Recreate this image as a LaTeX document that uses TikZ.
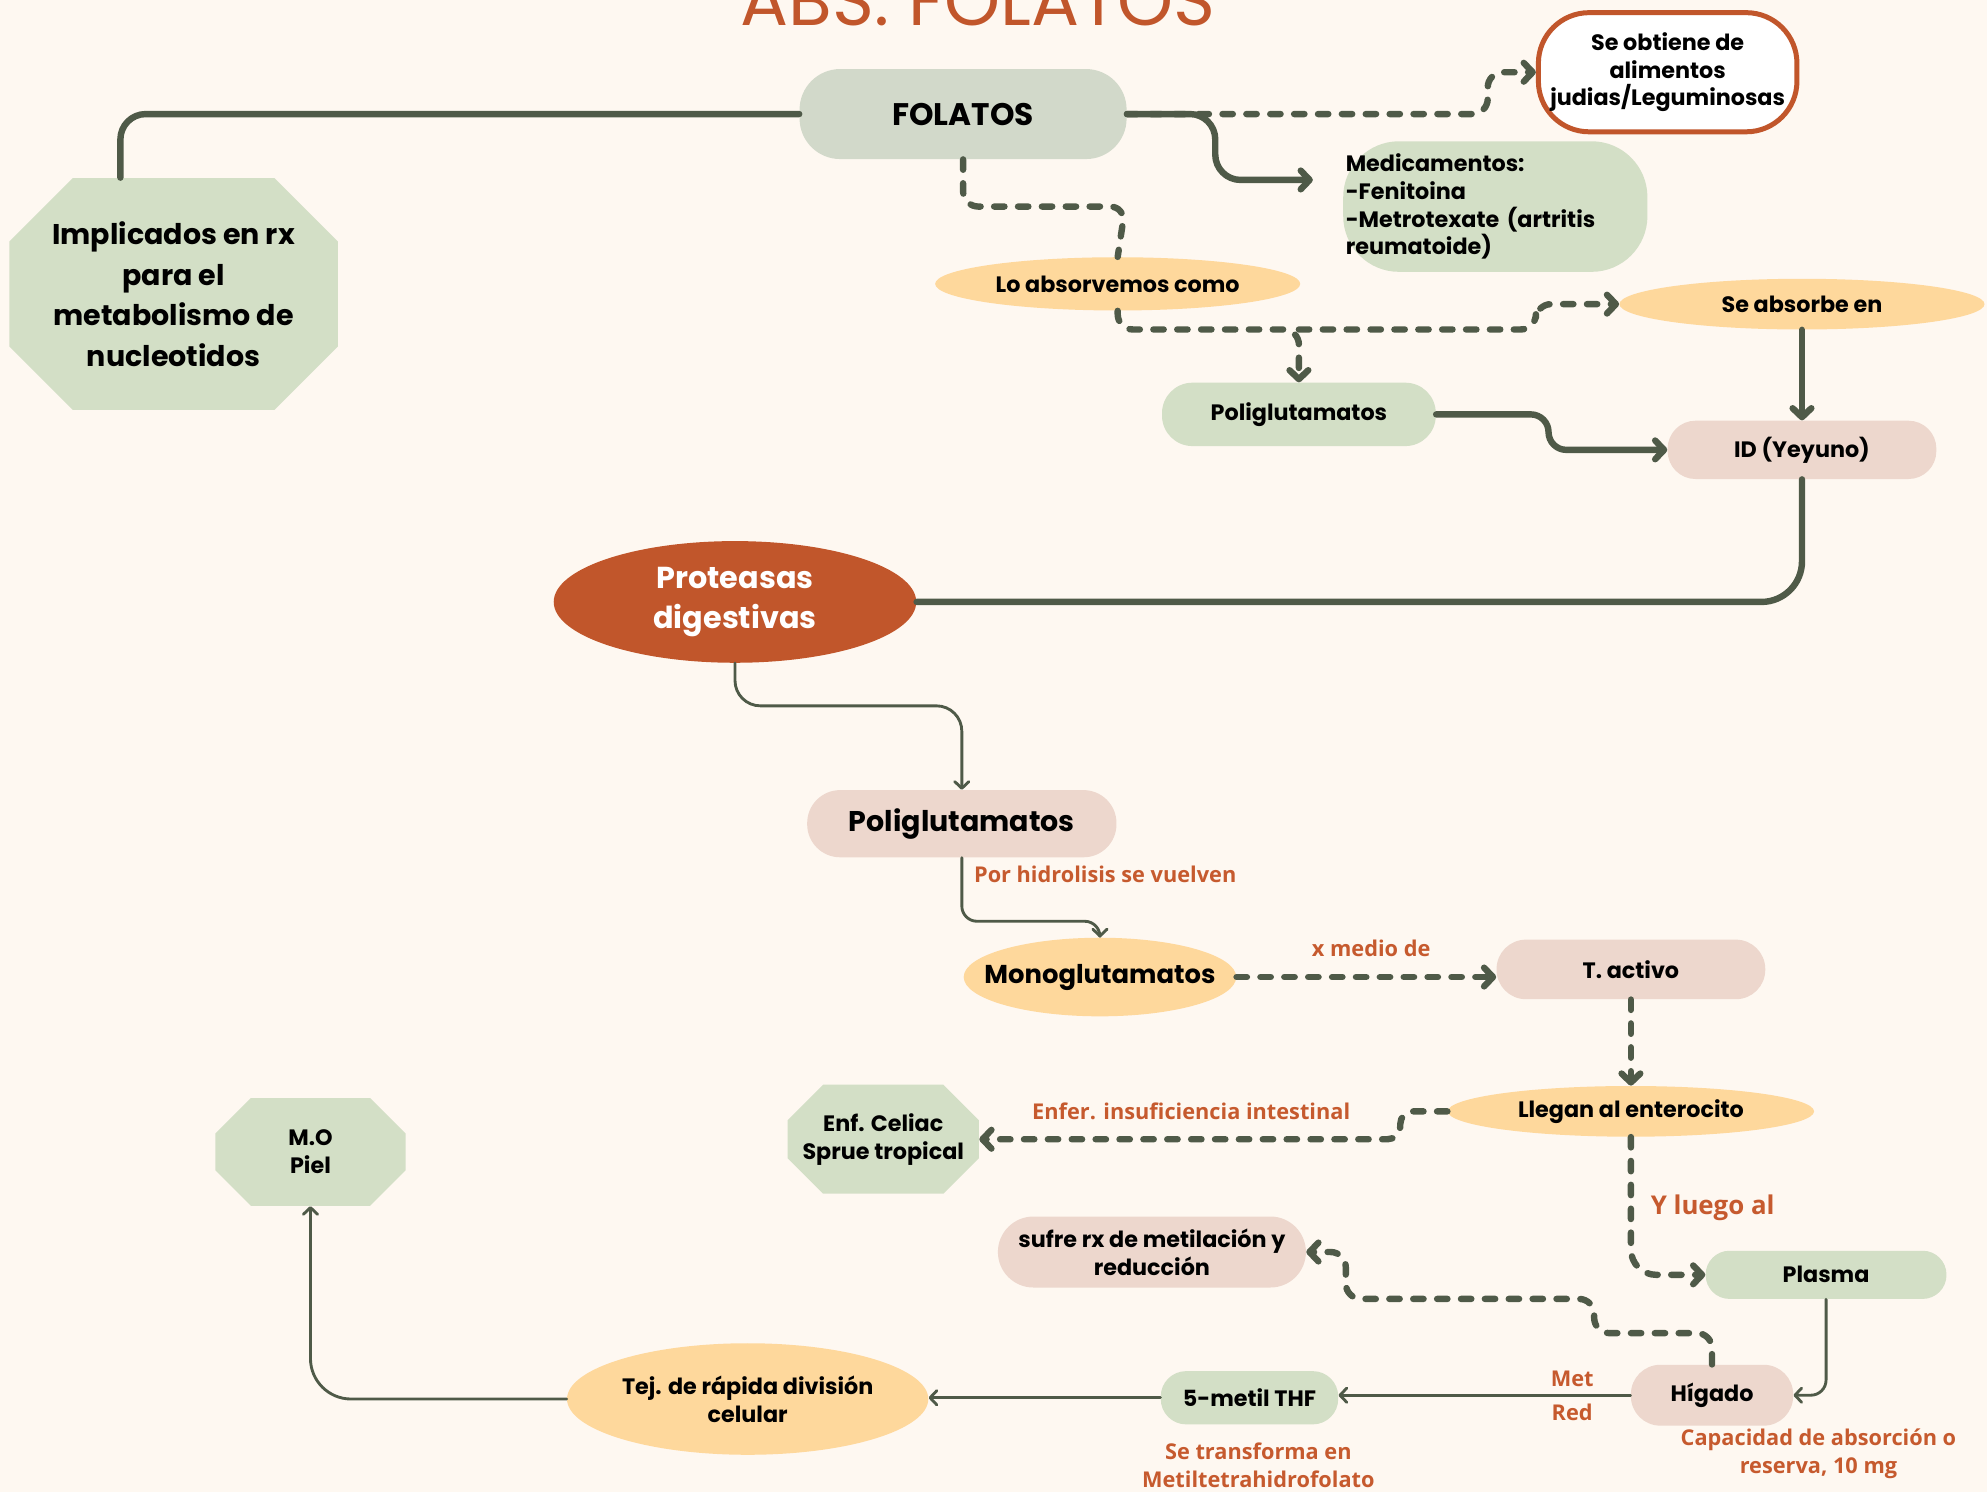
\documentclass[tikz,border=0pt]{standalone}
\usepackage{fontspec}
\setmainfont{Poppins}
\newfontfamily\lblfont{Open Sans}
\usepackage{xcolor}
\usepackage{tikz}
\usetikzlibrary{positioning, arrows.meta, shapes.geometric}

\definecolor{bgc}{HTML}{FEF8F1}
\definecolor{leaf}{HTML}{D3DFC6}
\definecolor{sage}{HTML}{D2D9CA}
\definecolor{rose}{HTML}{EDD7CD}
\definecolor{sand}{HTML}{FED89C}
\definecolor{rust}{HTML}{C1562B}
\definecolor{olive}{HTML}{4F5A48}
\definecolor{lblc}{HTML}{C65A2E}

\tikzset{
  txt/.style={font=\bfseries\fontsize{12.5}{15.6}\selectfont, align=center, text=black},
  pill/.style={txt, rectangle},
  oval/.style={txt, ellipse, inner xsep=-1cm, inner ysep=0pt},
  octo/.style={txt, rectangle, fill=bgc, path picture={
    \fill[leaf] ([xshift=#1]path picture bounding box.north west) -- ([xshift=-#1]path picture bounding box.north east)
      -- ([yshift=-#1]path picture bounding box.north east) -- ([yshift=#1]path picture bounding box.south east)
      -- ([xshift=-#1]path picture bounding box.south east) -- ([xshift=#1]path picture bounding box.south west)
      -- ([yshift=#1]path picture bounding box.south west) -- ([yshift=-#1]path picture bounding box.north west) -- cycle;}},
  lbl/.style={font=\lblfont\bfseries\fontsize{12.2}{15.6}\selectfont, text=lblc, align=center, inner sep=1pt},
  link/.style={line width=3.6pt, olive, line cap=round, line join=round},
  dlink/.style={link, dash pattern=on 5.8pt off 7.6pt},
  slim/.style={line width=1.6pt, olive, line cap=round, line join=round},
  tip/.style={-{Straight Barb[length=5pt, width=10.5pt, round]}},
  stip/.style={-{Straight Barb[length=3.8pt, width=8pt, round]}}
}

\begin{document}
\begin{tikzpicture}[x=0.025cm, y=-0.025cm]
\useasboundingbox (0,0) rectangle (1568,1177);
\fill[bgc] (0,0) rectangle (1568,1177);
\clip (0,0) rectangle (1568,1177);

\node[anchor=base, text=rust, font=\fontsize{40}{42}\selectfont] (title) at (772,20) {ABS. FOLATOS};

\node[pill, fill=sage, minimum width=6.45cm, minimum height=1.775cm, rounded corners=0.8cm, font=\bfseries\fontsize{17.5}{20}\selectfont] (fol) at (760,90) {FOLATOS};
\node[pill, fill=white, draw=rust, line width=2.8pt, minimum width=5.1cm, minimum height=2.35cm, rounded corners=1cm] (obt) at (1316,57) {Se obtiene de\\alimentos\\judias/Leguminosas};
\node[pill, fill=leaf, minimum height=2.575cm, rounded corners=1.1cm, align=left, text width=5.9cm, inner xsep=0.05cm] (med) at (1180,163) {Medicamentos:\\-Fenitoina\\-Metrotexate (artritis\\reumatoide)};
\node[octo=1.25cm, minimum width=6.475cm, minimum height=4.575cm, font=\bfseries\fontsize{16}{22.75}\selectfont] (impl) at (137,232) {Implicados en rx\\para el\\metabolismo de\\nucleotidos};

\node[oval, fill=sand, minimum width=7.2cm, minimum height=1.05cm] (lo) at (882,224) {Lo absorvemos como};
\node[oval, fill=sand, minimum width=7.2cm, minimum height=1cm] (seabs) at (1422,240) {Se absorbe en};
\node[pill, fill=leaf, minimum width=5.4cm, minimum height=1.25cm, rounded corners=0.6cm] (poli1) at (1025,327) {Poliglutamatos};
\node[pill, fill=rose, minimum width=5.3cm, minimum height=1.15cm, rounded corners=0.55cm] (idy) at (1422,355) {ID (Yeyuno)};

\node[oval, fill=rust, text=white, minimum width=7.15cm, minimum height=2.4cm, font=\bfseries\fontsize{17}{22.75}\selectfont] (prot) at (580,475) {Proteasas\\digestivas};
\node[pill, fill=rose, minimum width=6.1cm, minimum height=1.325cm, rounded corners=0.65cm, font=\bfseries\fontsize{16}{18}\selectfont] (poli2) at (759,650) {Poliglutamatos};
\node[oval, fill=sand, minimum width=5.375cm, minimum height=1.55cm, font=\bfseries\fontsize{14.5}{16}\selectfont] (mono) at (868,771) {Monoglutamatos};
\node[pill, fill=rose, minimum width=5.3cm, minimum height=1.175cm, rounded corners=0.58cm] (tact) at (1287,765) {T. activo};
\node[oval, fill=sand, minimum width=7.225cm, minimum height=1cm] (lleg) at (1287,877) {Llegan al enterocito};
\node[octo=0.7cm, minimum width=3.775cm, minimum height=2.15cm] (cel) at (697,899) {Enf. Celiac\\Sprue tropical};
\node[octo=0.7cm, minimum width=3.75cm, minimum height=2.125cm] (mo) at (245,909) {M.O\\Piel};
\node[pill, fill=rose, minimum width=6.075cm, minimum height=1.4cm, rounded corners=0.7cm] (sufre) at (909,988) {sufre rx de metilación y\\reducción};
\node[pill, fill=leaf, minimum width=4.75cm, minimum height=0.95cm, rounded corners=0.47cm] (plas) at (1441,1006) {Plasma};
\node[pill, fill=rose, minimum width=3.2cm, minimum height=1.2cm, rounded corners=0.58cm] (hig) at (1351,1101) {Hígado};
\node[pill, fill=leaf, minimum width=3.5cm, minimum height=1.05cm, rounded corners=0.5cm] (thf) at (986,1103) {5-metil THF};
\node[oval, fill=sand, minimum width=7.125cm, minimum height=2.2cm] (tej) at (590,1104) {Tej. de rápida división\\celular};

\node[lbl, anchor=west] (hidro) at (767,690) {Por hidrolisis se vuelven};
\node[lbl] (medio) at (1082,748) {x medio de};
\node[lbl] (enfer) at (940,877) {Enfer. insuficiencia intestinal};
\node[lbl, anchor=west, font=\lblfont\bfseries\fontsize{14.5}{16}\selectfont] (luego) at (1301,953) {Y luego al};
\node[lbl] (capac) at (1435,1147) {Capacidad de absorción o\\reserva, 10 mg};
\node[lbl] (transf) at (993,1156) {Se transforma en\\Metiltetrahidrofolato};

\coordinate (medin) at (1036,142);
\coordinate (split) at (1025,260);

\draw[link, rounded corners=0.5cm] (fol.west) -| (95,0 |- impl.north);
\draw[dlink, tip, rounded corners=0.3cm] (fol.east) -| (1174,57) -- (obt.west);
\draw[link, tip, rounded corners=0.5cm] (fol.east) -| (959,142) -- (medin);
\draw[dlink, rounded corners=0.3cm] (fol.south) |- (888,163) -- (lo.north);
\draw[dlink, tip, rounded corners=0.3cm] (lo.south) |- (split) -- (poli1.north);
\draw[dlink, tip, rounded corners=0.3cm] (split) -| (1212,240) -- (seabs.west);
\draw[link, tip] (seabs.south) -- (idy.north);
\draw[link, tip, rounded corners=0.35cm] (poli1.east) -| (1222,355) -- (idy.west);
\draw[link, rounded corners=0.8cm] (idy.south) |- (prot.east);
\draw[slim, stip, rounded corners=0.5cm] (prot.south) |- (poli2.north |- 0,557) -- (poli2.north);
\draw[slim, stip, rounded corners=0.3cm] (poli2.south) |- (mono.north |- 0,727) -- (mono.north);
\draw[dlink, tip] (mono.east) -- (mono.east -| tact.west);
\draw[dlink, tip] (tact.south) -- (lleg.north);
\draw[dlink, tip, rounded corners=0.25cm] (lleg.west) -| (cel.east -| 1105,0) -- (cel.east);
\draw[dlink, tip, rounded corners=0.5cm] (lleg.south) |- (plas.west);
\draw[slim, stip, rounded corners=0.3cm] (plas.south) |- (hig.east);
\draw[dlink, tip, rounded corners=0.3cm] (hig.north) |- (1258,1052) |- (1062,1025) |- (sufre.east);
\draw[slim, stip] (hig.west) -- node[lbl, pos=0.2, above=3pt] (met) {Met} node[lbl, pos=0.2, below=3pt] (red) {Red} (hig.west -| thf.east);
\draw[slim, stip] (thf.west) -- (thf.west -| tej.east);
\draw[slim, stip, rounded corners=0.8cm] (tej.west) -| (mo.south);
\end{tikzpicture}
\end{document}
